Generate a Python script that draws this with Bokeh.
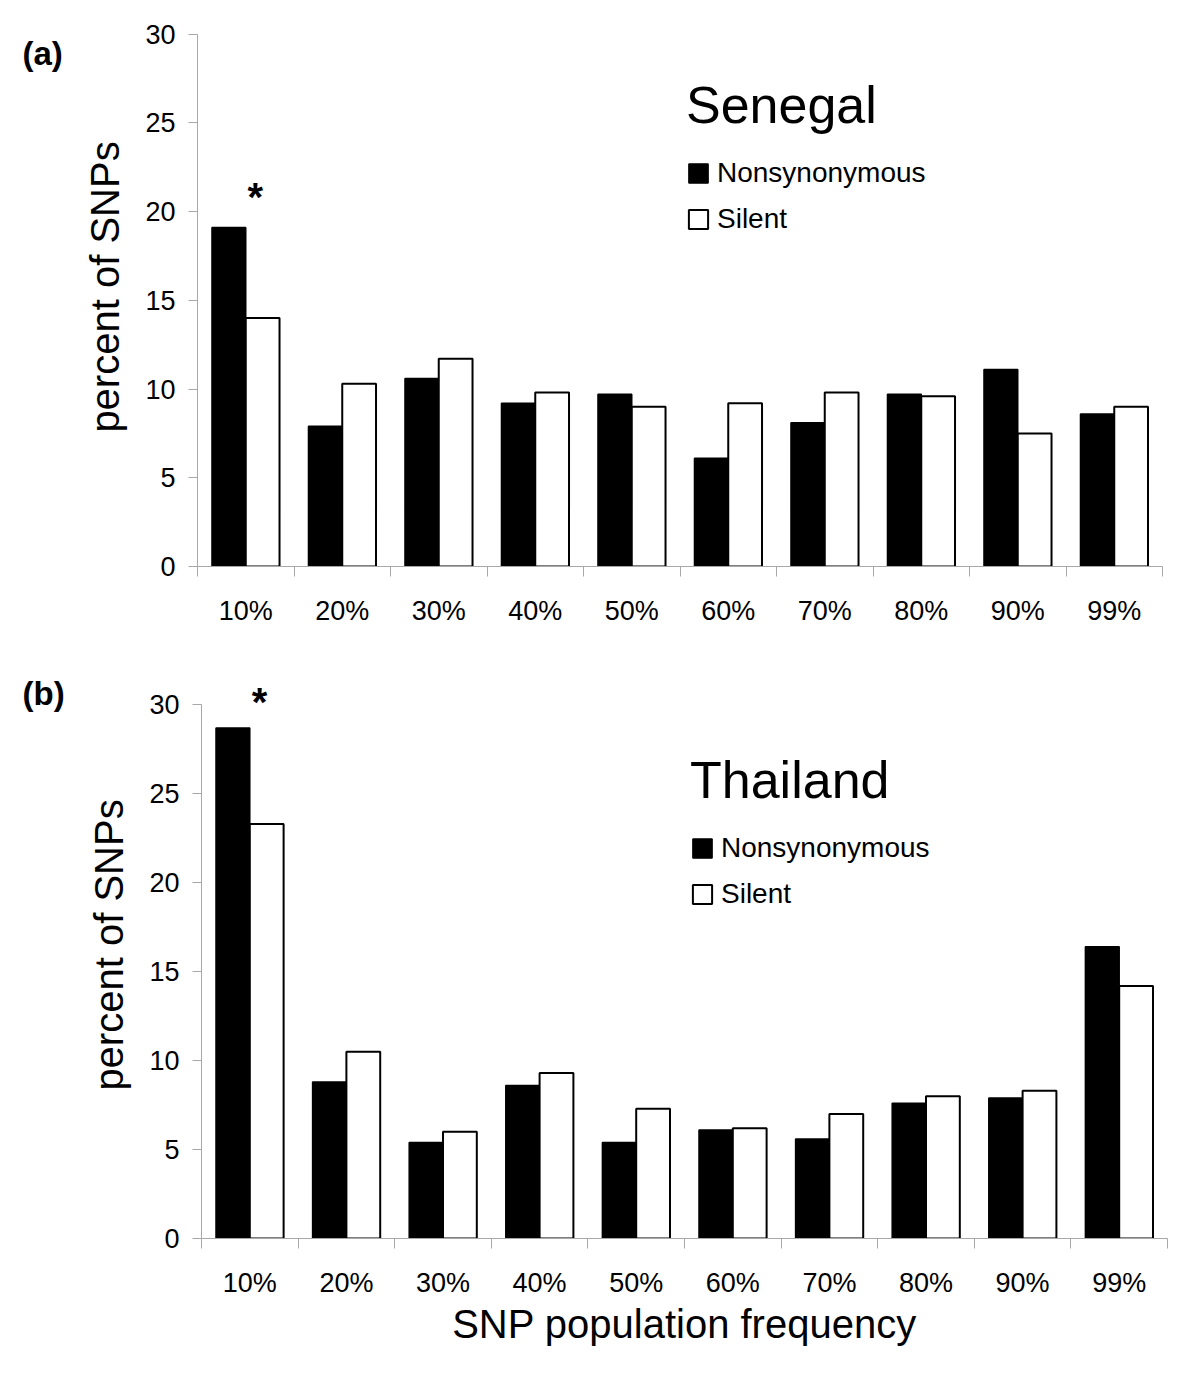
from bokeh.plotting import figure
from bokeh.models import FixedTicker, Legend, LegendItem, Label, Range1d, ColumnDataSource
from bokeh.layouts import column, row
from bokeh.transform import dodge
from bokeh.embed import file_html
from bokeh.resources import INLINE

categories = ["10%", "20%", "30%", "40%", "50%", "60%", "70%", "80%", "90%", "99%"]
senegal_nonsyn = [19.1, 7.9, 10.6, 9.2, 9.7, 6.1, 8.1, 9.7, 11.1, 8.6]
senegal_silent = [14.0, 10.3, 11.7, 9.8, 9.0, 9.2, 9.8, 9.6, 7.5, 9.0]
thailand_nonsyn = [28.7, 8.8, 5.4, 8.6, 5.4, 6.1, 5.6, 7.6, 7.9, 16.4]
thailand_silent = [23.3, 10.5, 6.0, 9.3, 7.3, 6.2, 7.0, 8.0, 8.3, 14.2]
y_ticks = [0, 5, 10, 15, 20, 25, 30]
series_names = ["Nonsynonymous", "Silent"]

FONT = "Liberation Sans"
AXIS_GRAY = "#a8a8a8"
TAG_W = 70


def make_tag(text, height, ty):
    t = figure(width=TAG_W, height=height, x_range=Range1d(0, TAG_W), y_range=Range1d(0, height),
               x_axis_type=None, y_axis_type=None, output_backend="svg",
               toolbar_location=None, min_border=0)
    t.grid.visible = False
    t.outline_line_color = None
    t.add_layout(Label(x=22, y=ty, text=text, text_font=FONT, text_font_size="33px",
                       text_font_style="bold", text_color="black",
                       text_baseline="middle", text_align="left"))
    return t


def make_panel(nonsyn, silent, country, star_y, y_end, height, top, bottom, left, right,
               legend_y, xlabel=None):
    centers = [i + 0.5 for i in range(len(categories))]
    src = ColumnDataSource(dict(x=centers, ns=nonsyn, si=silent))
    p = figure(width=1184 - TAG_W, height=height, x_range=Range1d(0, len(categories)),
               y_range=Range1d(0, y_end), output_backend="svg", toolbar_location=None,
               min_border_left=left, min_border_right=right,
               min_border_top=top, min_border_bottom=bottom)
    p.grid.visible = False
    p.outline_line_color = None

    r1 = p.vbar(x=dodge("x", -0.175), top="ns", width=0.35, source=src,
                fill_color="black", line_color="black", line_width=1.5)
    r2 = p.vbar(x=dodge("x", 0.175), top="si", width=0.35, source=src,
                fill_color="white", line_color="black", line_width=2)

    # x axis: labels at category centres, ticks at category boundaries
    xa = p.xaxis[0]
    xa.ticker = FixedTicker(ticks=centers, minor_ticks=list(range(len(categories) + 1)))
    xa.major_label_overrides = {c: lab for c, lab in zip(centers, categories)}
    xa.major_tick_out = 0
    xa.major_tick_in = 0
    xa.minor_tick_out = 10
    xa.minor_tick_in = 0
    xa.minor_tick_line_color = AXIS_GRAY
    xa.axis_line_color = AXIS_GRAY
    xa.major_label_text_font = FONT
    xa.major_label_text_font_size = "27px"
    xa.major_label_text_color = "black"
    xa.major_label_standoff = 19
    if xlabel:
        xa.axis_label = xlabel
        xa.axis_label_text_font = FONT
        xa.axis_label_text_font_size = "40px"
        xa.axis_label_text_font_style = "normal"
        xa.axis_label_text_color = "black"
        xa.axis_label_standoff = 1

    # y axis
    ya = p.yaxis[0]
    ya.ticker = FixedTicker(ticks=y_ticks, minor_ticks=[])
    ya.bounds = (y_ticks[0], y_ticks[-1])
    ya.major_tick_out = 9
    ya.major_tick_in = 0
    ya.major_tick_line_color = AXIS_GRAY
    ya.axis_line_color = AXIS_GRAY
    ya.major_label_text_font = FONT
    ya.major_label_text_font_size = "27px"
    ya.major_label_text_color = "black"
    ya.major_label_standoff = 13
    ya.axis_label = "percent of SNPs"
    ya.axis_label_text_font = FONT
    ya.axis_label_text_font_size = "40px"
    ya.axis_label_text_font_style = "normal"
    ya.axis_label_text_color = "black"
    ya.axis_label_standoff = 15

    legend = Legend(items=[LegendItem(label=series_names[0], renderers=[r1]),
                           LegendItem(label=series_names[1], renderers=[r2])],
                    title=country, location=(489, legend_y))
    legend.title_text_font = FONT
    legend.title_text_font_size = "52px"
    legend.title_text_font_style = "normal"
    legend.title_text_color = "black"
    legend.title_standoff = 22
    legend.label_text_font = FONT
    legend.label_text_font_size = "28px"
    legend.label_text_color = "black"
    legend.glyph_width = 24
    legend.glyph_height = 24
    legend.label_height = 30
    legend.label_standoff = 7
    legend.spacing = 14
    legend.padding = 0
    legend.margin = 0
    legend.border_line_alpha = 0
    legend.background_fill_alpha = 0
    p.add_layout(legend)

    p.add_layout(Label(x=0.6, y=star_y, text="*", text_font=FONT, text_font_size="40px",
                       text_font_style="bold", text_color="black",
                       text_baseline="middle", text_align="center"))
    return p


HA, HB = 650, 720
pa = make_panel(senegal_nonsyn, senegal_silent, "Senegal", 20.8, 31.5,
                height=HA, top=7, bottom=84, left=127, right=22, legend_y=331)
pb = make_panel(thailand_nonsyn, thailand_silent, "Thailand", 30.15, 33.0,
                height=HB, top=1, bottom=132, left=131, right=17, legend_y=328,
                xlabel="SNP population frequency")
ta = make_tag("(a)", HA, HA - 53)
tb = make_tag("(b)", HB, HB - 52)

layout = column(row(ta, pa, spacing=0), row(tb, pb, spacing=0), spacing=0)
open("out.html", "w").write(file_html(layout, INLINE))
